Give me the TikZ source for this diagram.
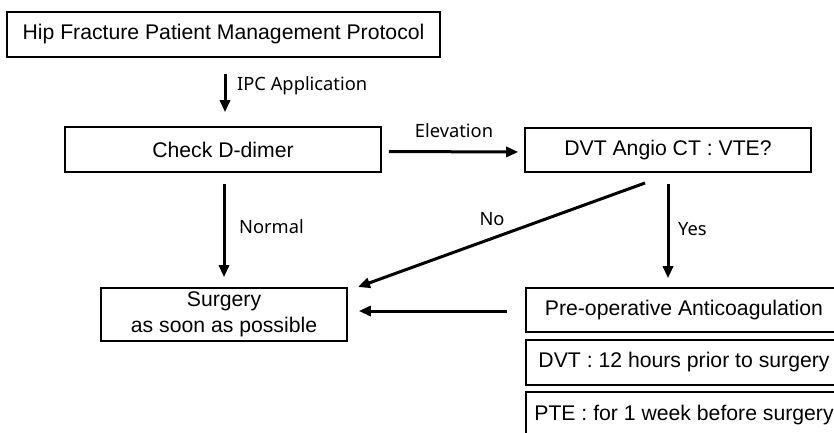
\documentclass[tikz,border=0pt]{standalone}
\usepackage{fontspec}
\setmainfont{Liberation Sans}
\newfontfamily\lblfont{Noto Sans}
\usetikzlibrary{arrows.meta,calc}
\begin{document}
\begin{tikzpicture}[x=1pt,y=-1pt,
  box/.style={draw, line width=1.6pt, rectangle, inner sep=0pt, align=center,
    font=\fontsize{21.2}{26}\selectfont},
  arr/.style={line width=3pt, -{Triangle[length=12pt,width=10pt]}},
  lbl/.style={font=\lblfont\fontsize{18.3}{21}\selectfont, inner sep=0pt}]
\clip (0,0) rectangle (834,432);
\fill[white] (0,0) rectangle (834,432);
\node[box, minimum width=433pt, minimum height=45pt] (top) at (223.5,34.5) {Hip Fracture Patient Management Protocol};
\node[box, minimum width=316pt, minimum height=45pt] (check) at (223,149.5) {Check D-dimer};
\node[box, minimum width=286pt, minimum height=44pt] (dvt) at (668,150) {DVT Angio CT : VTE?};
\node[box, minimum width=246pt, minimum height=53pt] (surg) at (224,314.5) {Surgery\\as soon as possible};
\node[box, minimum width=316pt, minimum height=44pt] (pre) at (684,310) {Pre-operative Anticoagulation};
\node[box, minimum width=316pt, minimum height=45pt] (dvtt) at (684,362.5) {DVT : 12 hours prior to surgery};
\node[box, minimum width=316pt, minimum height=46pt] (pte) at (684,415) {PTE : for 1 week before surgery};
\coordinate (nostart) at (645,183);
\coordinate (noend) at (358,287);
\draw[arr, shorten <=16pt, shorten >=14pt] ($(top.south)+(1.5,0)$) -- ($(check.north)+(2,0)$);
\draw[arr, shorten <=7pt, shorten >=6pt] ($(check.east)+(0,2)$) -- ($(dvt.west)+(0,2)$);
\draw[arr, shorten <=11pt, shorten >=10pt] ($(check.south)+(1,0)$) -- ($(surg.north)+(0,0)$);
\draw[arr] (nostart) -- (noend);
\draw[arr, shorten <=11pt, shorten >=9pt] (dvt.south) -- (dvt.south |- pre.north);
\draw[arr, shorten <=18pt, shorten >=11pt] ($(pre.west)+(0,1)$) -- ($(pre.west -| surg.east)+(0,1)$);
\node[lbl, anchor=west] (ipc) at (237,86) {IPC Application};
\node[lbl] (elev) at (454,131) {Elevation};
\node[lbl, anchor=west] (norm) at (239,227) {Normal};
\node[lbl] (no) at (492,219) {No};
\node[lbl, anchor=west] (yes) at (678,229) {Yes};
\end{tikzpicture}
\end{document}
